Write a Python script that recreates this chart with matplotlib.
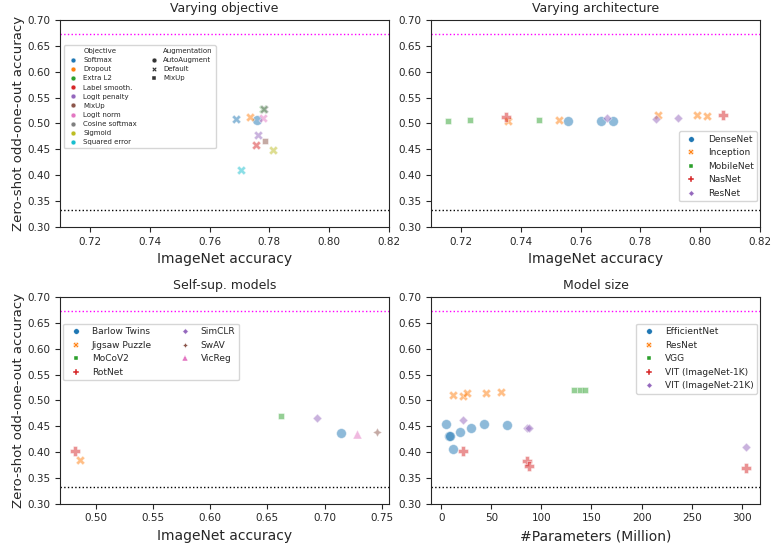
import matplotlib
matplotlib.use("Agg")
import matplotlib.pyplot as plt
from matplotlib.lines import Line2D
import seaborn as sns

sns.set_style("ticks")
plt.rcParams["font.family"] = ["DejaVu Sans"]

pal = sns.color_palette("tab10")
MARKERS = ["o", "X", (4, 0, 45), "P", (4, 0, 0), (4, 1, 0), "^", (4, 1, 45), "v"]

CHANCE = 1 / 3
HUMAN = 0.673

# --- panel 1: varying objective ---
obj_names = ["Softmax", "Dropout", "Extra L2", "Label smooth.", "Logit penalty",
             "MixUp", "Logit norm", "Cosine softmax", "Sigmoid", "Squared error"]
aug_names = ["AutoAugment", "Default", "MixUp"]
obj_pt_obj = [0, 0, 1, 2, 3, 4, 5, 6, 7, 8, 9]
obj_pt_aug = [0, 1, 1, 1, 1, 1, 2, 1, 1, 1, 1]
obj_x = [0.7760, 0.7688, 0.7736, 0.7778, 0.7756, 0.7761, 0.7787, 0.7778, 0.7781, 0.7813, 0.7706]
obj_y = [0.5064, 0.5096, 0.5128, 0.5288, 0.4583, 0.4776, 0.4670, 0.5110, 0.5278, 0.4480, 0.4109]

# --- panel 2: varying architecture ---
arch_names = ["DenseNet", "Inception", "MobileNet", "NasNet", "ResNet"]
arch_pt = [0, 0, 0, 1, 1, 1, 1, 1, 2, 2, 2, 3, 3, 4, 4, 4]
arch_x = [0.7559, 0.7667, 0.7709, 0.7355, 0.7527, 0.7860, 0.7988, 0.8024,
          0.7157, 0.7228, 0.7460, 0.7349, 0.8077, 0.7689, 0.7853, 0.7926]
arch_y = [0.504, 0.505, 0.504, 0.504, 0.507, 0.516, 0.516, 0.5135,
          0.5045, 0.507, 0.506, 0.512, 0.517, 0.511, 0.509, 0.510]

# --- panel 3: self-supervised ---
ssl_names = ["Barlow Twins", "Jigsaw Puzzle", "MoCoV2", "RotNet", "SimCLR", "SwAV", "VicReg"]
ssl_x = [0.7141, 0.4862, 0.6615, 0.4822, 0.6934, 0.7454, 0.7279]
ssl_y = [0.4372, 0.3854, 0.4702, 0.4029, 0.4663, 0.4385, 0.4359]

# --- panel 4: model size ---
size_names = ["EfficientNet", "ResNet", "VGG", "VIT (ImageNet-1K)", "VIT (ImageNet-21K)"]
size_pt = [0] * 8 + [1] * 5 + [2] * 3 + [3] * 4 + [4] * 4
size_x = [5.3, 7.8, 9.2, 12, 19, 30, 43, 66,
          11.7, 21.8, 25.6, 44.5, 60.2,
          133, 138.4, 143.7,
          22, 86, 88, 304,
          22, 86, 88, 304]
size_y = [0.454, 0.431, 0.432, 0.4055, 0.439, 0.447, 0.455, 0.453,
          0.5104, 0.509, 0.515, 0.515, 0.5155,
          0.521, 0.521, 0.5205,
          0.4023, 0.3822, 0.3738, 0.370,
          0.4618, 0.4469, 0.4469, 0.410]


def dot(ax, x, y, color, marker):
    s = 50 if marker == "o" else 42
    ax.scatter([x], [y], color=color, marker=marker, s=s, alpha=0.5,
               edgecolor="white", linewidth=0.6, zorder=3)


def finish(ax, title, xlabel, ylabel=True):
    ax.axhline(HUMAN, color="magenta", ls=":", lw=1, zorder=1)
    ax.axhline(CHANCE, color="black", ls=":", lw=1, zorder=1)
    ax.set_ylim(0.30, 0.70)
    ax.set_yticks([0.30, 0.35, 0.40, 0.45, 0.50, 0.55, 0.60, 0.65, 0.70])
    ax.set_title(title, fontsize=9)
    ax.set_xlabel(xlabel, fontsize=10)
    if ylabel:
        ax.set_ylabel("Zero-shot odd-one-out accuracy", fontsize=9.5, labelpad=2)
    ax.tick_params(labelsize=7.5)
    for sp in ax.spines.values():
        sp.set_visible(True)


def handle(label, color, marker, ms=4):
    return Line2D([], [], ls="", marker=marker, color=color, markeredgecolor="white",
                  markeredgewidth=0.3, markersize=ms, label=label)


fig, axes = plt.subplots(2, 2, figsize=(7.73, 5.44), dpi=100)
fig.subplots_adjust(left=0.078, right=0.983, top=0.963, bottom=0.074,
                    wspace=0.13, hspace=0.34)

# panel 1
ax = axes[0, 0]
for x, y, o, a in zip(obj_x, obj_y, obj_pt_obj, obj_pt_aug):
    dot(ax, x, y, pal[o], MARKERS[a])
ax.set_xlim(0.71, 0.82)
ax.set_xticks([0.72, 0.74, 0.76, 0.78, 0.80, 0.82])
finish(ax, "Varying objective", "ImageNet accuracy")
hs = [Line2D([], [], ls="", label="Objective")]
hs += [handle(n, pal[i], "o", 3.5) for i, n in enumerate(obj_names)]
hs += [Line2D([], [], ls="", label="Augmentation")]
hs += [handle(n, ".2", MARKERS[i], 3.5) for i, n in enumerate(aug_names)]
hs += [Line2D([], [], ls="", label=" ")] * 6
ax.legend(handles=hs, ncol=2, fontsize=5, loc="upper left",
          bbox_to_anchor=(0.0, 0.895), handletextpad=0.4, columnspacing=1.4,
          labelspacing=0.45, borderpad=0.4)

# panel 2
ax = axes[0, 1]
for x, y, k in zip(arch_x, arch_y, arch_pt):
    dot(ax, x, y, pal[k], MARKERS[k])
ax.set_xlim(0.71, 0.82)
ax.set_xticks([0.72, 0.74, 0.76, 0.78, 0.80, 0.82])
finish(ax, "Varying architecture", "ImageNet accuracy", ylabel=False)
ax.legend(handles=[handle(n, pal[i], MARKERS[i]) for i, n in enumerate(arch_names)],
          fontsize=6.5, loc="lower right", bbox_to_anchor=(1.0, 0.11),
          handletextpad=0.8, borderaxespad=0.3)

# panel 3
ax = axes[1, 0]
for i, (x, y) in enumerate(zip(ssl_x, ssl_y)):
    dot(ax, x, y, pal[i], MARKERS[i])
ax.set_xticks([0.50, 0.55, 0.60, 0.65, 0.70, 0.75])
ax.set_xlim(0.469, 0.756)
finish(ax, "Self-sup. models", "ImageNet accuracy")
ax.legend(handles=[handle(n, pal[i], MARKERS[i]) for i, n in enumerate(ssl_names)],
          ncol=2, fontsize=6.5, loc="upper left", bbox_to_anchor=(0.0, 0.885),
          handletextpad=0.8, columnspacing=2.6, borderaxespad=0.3)

# panel 4
ax = axes[1, 1]
for x, y, k in zip(size_x, size_y, size_pt):
    dot(ax, x, y, pal[k], MARKERS[k])
ax.set_xticks([0, 50, 100, 150, 200, 250, 300])
ax.set_xlim(-9.7, 318)
finish(ax, "Model size", "#Parameters (Million)", ylabel=False)
ax.legend(handles=[handle(n, pal[i], MARKERS[i]) for i, n in enumerate(size_names)],
          fontsize=6.5, loc="upper right", bbox_to_anchor=(1.0, 0.885),
          handletextpad=0.8, borderaxespad=0.3)

fig.savefig("out.png", dpi=100)
